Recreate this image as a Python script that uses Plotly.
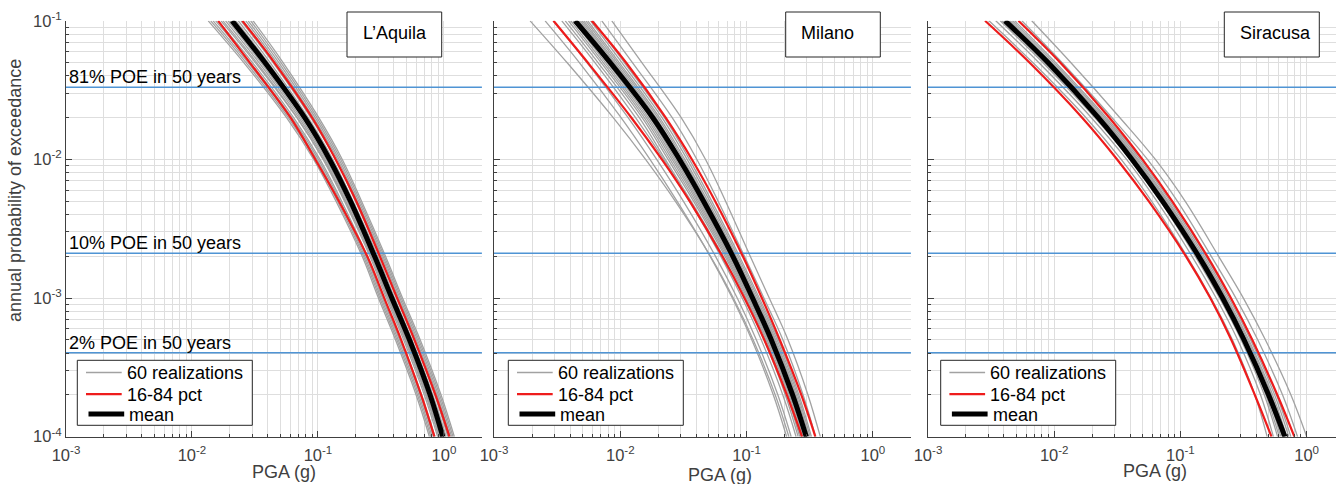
import numpy as np
import plotly.graph_objects as go

FIG_W, FIG_H = 1336, 484

# ---------------- data ----------------
poe_levels = [1e-1, 5e-2, 2e-2, 1e-2, 5e-3, 2e-3, 1e-3, 5e-4, 2e-4, 1e-4]

city_names = ["L’Aquila", "Milano", "Siracusa"]

# L'Aquila
aquila_mean = [0.0208, 0.0379, 0.0785, 0.1236, 0.181, 0.2814, 0.3857, 0.532, 0.776, 0.978]
aquila_p16 = [0.01614, 0.02873, 0.06058, 0.09525, 0.1466, 0.246, 0.3357, 0.457, 0.659, 0.840]
aquila_p84 = [0.02514, 0.0451, 0.08993, 0.1382, 0.2014, 0.3098, 0.425, 0.583, 0.856, 1.105]
aquila_realizations = [
    [0.01346, 0.02576, 0.05629, 0.09242, 0.1390, 0.2244, 0.3020, 0.4121, 0.6012, 0.7665],
    [0.01409, 0.02681, 0.05818, 0.09515, 0.1427, 0.2298, 0.3095, 0.4226, 0.6167, 0.7863],
    [0.01472, 0.02786, 0.06008, 0.09787, 0.1463, 0.2352, 0.3170, 0.4331, 0.6322, 0.8061],
    [0.01542, 0.02903, 0.06208, 0.1008, 0.1502, 0.2409, 0.3249, 0.4441, 0.6484, 0.8268],
    [0.01611, 0.03020, 0.06408, 0.1037, 0.1541, 0.2465, 0.3327, 0.4551, 0.6646, 0.8475],
    [0.0170, 0.0318, 0.06797, 0.1106, 0.1650, 0.2650, 0.3600, 0.4950, 0.7220, 0.9200],
    [0.01762, 0.03266, 0.06838, 0.1098, 0.1622, 0.2583, 0.3491, 0.4783, 0.6988, 0.8909],
    [0.01847, 0.03399, 0.07066, 0.1131, 0.1665, 0.2645, 0.3578, 0.4905, 0.7168, 0.9138],
    [0.01932, 0.03532, 0.07294, 0.1163, 0.1708, 0.2706, 0.3664, 0.5026, 0.7347, 0.9367],
    [0.0200, 0.0365, 0.07565, 0.1203, 0.1780, 0.2850, 0.3950, 0.5470, 0.8050, 1.0250],
    [0.02128, 0.03855, 0.07831, 0.1238, 0.1806, 0.2849, 0.3864, 0.5306, 0.7763, 0.9895],
    [0.0220, 0.0395, 0.07929, 0.1232, 0.1770, 0.2740, 0.3660, 0.5000, 0.7250, 0.9150],
    [0.02230, 0.04012, 0.08093, 0.1275, 0.1854, 0.2917, 0.3960, 0.5442, 0.7961, 1.0150],
    [0.02333, 0.04169, 0.08355, 0.1311, 0.1901, 0.2985, 0.4055, 0.5577, 0.8159, 1.0404],
    [0.0245, 0.0440, 0.08767, 0.1377, 0.1985, 0.3090, 0.4200, 0.5780, 0.8450, 1.0750],
    [0.02553, 0.04508, 0.08914, 0.1389, 0.2001, 0.3128, 0.4256, 0.5861, 0.8579, 1.0937],
    [0.02673, 0.04698, 0.09213, 0.1431, 0.2054, 0.3204, 0.4362, 0.6010, 0.8800, 1.1219],
    [0.02793, 0.04887, 0.09511, 0.1471, 0.2107, 0.3279, 0.4467, 0.6158, 0.9020, 1.1500],
    [0.02924, 0.05086, 0.09828, 0.1515, 0.2163, 0.3358, 0.4578, 0.6315, 0.9252, 1.1796],
    [0.03055, 0.05284, 0.1015, 0.1559, 0.2218, 0.3436, 0.4688, 0.6471, 0.9484, 1.2091],
]

# Milano
milano_mean = [0.00439, 0.00831, 0.0181, 0.02944, 0.04563, 0.0779, 0.1115, 0.1568, 0.2314, 0.2971]
milano_p16 = [0.002957, 0.005521, 0.01225, 0.02133, 0.03540, 0.06427, 0.09616, 0.1380, 0.2084, 0.2748]
milano_p84 = [0.005948, 0.01110, 0.02288, 0.03693, 0.05641, 0.09341, 0.1321, 0.1830, 0.2713, 0.3503]
milano_realizations = [
    [0.001932, 0.003784, 0.008790, 0.01585, 0.02723, 0.05176, 0.07852, 0.1127, 0.1687, 0.2163],
    [0.002541, 0.004742, 0.01014, 0.01718, 0.02812, 0.05152, 0.07709, 0.1099, 0.1629, 0.2075],
    [0.002938, 0.005445, 0.01153, 0.01941, 0.03155, 0.05675, 0.08433, 0.1194, 0.1770, 0.2254],
    [0.003442, 0.006295, 0.01321, 0.02208, 0.03540, 0.06252, 0.09226, 0.1306, 0.1936, 0.2466],
    [0.003665, 0.006665, 0.01414, 0.02269, 0.03634, 0.06530, 0.09593, 0.1378, 0.2027, 0.2560],
    [0.003887, 0.007045, 0.01491, 0.02388, 0.03798, 0.06760, 0.09904, 0.1421, 0.2087, 0.2634],
    [0.004060, 0.007339, 0.01550, 0.02480, 0.03922, 0.06931, 0.1014, 0.1453, 0.2131, 0.2689],
    [0.004233, 0.007633, 0.01609, 0.02571, 0.04045, 0.07102, 0.1037, 0.1484, 0.2175, 0.2743],
    [0.004393, 0.007904, 0.01664, 0.02655, 0.04157, 0.07256, 0.1058, 0.1512, 0.2215, 0.2791],
    [0.004553, 0.008175, 0.01718, 0.02738, 0.04269, 0.07409, 0.1078, 0.1540, 0.2254, 0.2839],
    [0.004696, 0.008416, 0.01767, 0.02812, 0.04368, 0.07542, 0.1096, 0.1565, 0.2288, 0.2881],
    [0.004839, 0.008656, 0.01815, 0.02886, 0.04466, 0.07675, 0.1114, 0.1589, 0.2321, 0.2922],
    [0.004991, 0.008911, 0.01866, 0.02964, 0.04569, 0.07813, 0.1132, 0.1614, 0.2356, 0.2965],
    [0.005142, 0.009165, 0.01917, 0.03042, 0.04671, 0.07950, 0.1150, 0.1639, 0.2390, 0.3008],
    [0.005336, 0.009490, 0.01982, 0.03141, 0.04801, 0.08122, 0.1173, 0.1670, 0.2433, 0.3061],
    [0.005530, 0.009815, 0.02047, 0.03240, 0.04931, 0.08294, 0.1196, 0.1700, 0.2476, 0.3114],
    [0.005814, 0.010286, 0.02141, 0.03383, 0.05115, 0.08536, 0.1228, 0.1744, 0.2536, 0.3188],
    [0.006097, 0.010757, 0.02235, 0.03525, 0.05298, 0.08777, 0.1260, 0.1787, 0.2596, 0.3261],
    [0.007141, 0.012479, 0.02577, 0.04042, 0.05957, 0.09619, 0.1371, 0.1937, 0.2803, 0.3516],
    [0.008571, 0.014816, 0.03036, 0.04733, 0.06817, 0.1069, 0.1512, 0.2126, 0.3062, 0.3835],
]

# Siracusa
siracusa_mean = [0.004083, 0.008933, 0.02234, 0.04140, 0.07211, 0.1396, 0.2163, 0.3192, 0.5000, 0.6730]
siracusa_p16 = [0.002833, 0.006368, 0.01667, 0.03155, 0.05610, 0.1107, 0.1726, 0.2529, 0.3890, 0.5272]
siracusa_p84 = [0.005204, 0.01115, 0.02738, 0.05004, 0.0860, 0.1634, 0.2513, 0.3710, 0.5867, 0.8005]
siracusa_realizations = [
    [0.003042, 0.006760, 0.01787, 0.03394, 0.05907, 0.1128, 0.1751, 0.2584, 0.3891, 0.4869],
    [0.003441, 0.007540, 0.01971, 0.03746, 0.06508, 0.1236, 0.1921, 0.2840, 0.4317, 0.5456],
    [0.003736, 0.008111, 0.02103, 0.04000, 0.06942, 0.1313, 0.2043, 0.3025, 0.4626, 0.5888],
    [0.003863, 0.008356, 0.02160, 0.04108, 0.07126, 0.1346, 0.2096, 0.3104, 0.4759, 0.6073],
    [0.003989, 0.008600, 0.02216, 0.04216, 0.07309, 0.1379, 0.2148, 0.3183, 0.4890, 0.6258],
    [0.004107, 0.008826, 0.02268, 0.04315, 0.07478, 0.1409, 0.2195, 0.3255, 0.5013, 0.6429],
    [0.004225, 0.009051, 0.02319, 0.04415, 0.07646, 0.1439, 0.2243, 0.3327, 0.5134, 0.6600],
    [0.004350, 0.009288, 0.02374, 0.04519, 0.07822, 0.1470, 0.2294, 0.3403, 0.5262, 0.6780],
    [0.004475, 0.009524, 0.02427, 0.04623, 0.07999, 0.1501, 0.2343, 0.3477, 0.5390, 0.6959],
    [0.004667, 0.009885, 0.02509, 0.04780, 0.08265, 0.1549, 0.2418, 0.3592, 0.5583, 0.7234],
    [0.004859, 0.010245, 0.02591, 0.04937, 0.08531, 0.1595, 0.2493, 0.3705, 0.5775, 0.7509],
    [0.005539, 0.011516, 0.02874, 0.05482, 0.09459, 0.1757, 0.2753, 0.4099, 0.6454, 0.8482],
    [0.006638, 0.013521, 0.03316, 0.06335, 0.1090, 0.2010, 0.3155, 0.4712, 0.7516, 1.0025],
]

# reference probability-of-exceedance lines
poe_values = [0.0332, 0.002107, 0.000404]
poe_labels = ["81% POE in 50 years", "10% POE in 50 years", "2% POE in 50 years"]

# axis limits and ticks
pga_limits = [1e-3, 2.0]
x_tickvals = [1e-3, 1e-2, 1e-1, 1e0]
x_ticktext = ["10<sup>-3</sup>", "10<sup>-2</sup>", "10<sup>-1</sup>", "10<sup>0</sup>"]
y_tickvals = [1e-4, 1e-3, 1e-2, 1e-1]
y_ticktext = ["10<sup>-4</sup>", "10<sup>-3</sup>", "10<sup>-2</sup>", "10<sup>-1</sup>"]

legend_names = ["60 realizations", "16-84 pct", "mean"]

# ---------------- layout helpers ----------------
def fx(p):
    return p / FIG_W


def fy(p):
    return 1 - p / FIG_H


FONT = "Liberation Sans, Arial, Helvetica, sans-serif"
GRID = "#dedede"
AXIS = "#404040"
GREY = "#a2a2a2"
RED = "#ee1c1c"
BLUE = "#4f94d4"

panel_px = [(66, 482), (494, 911), (928, 1336)]
panel_xmax = [np.log10(pga_limits[1]) + 0.0008, np.log10(pga_limits[1]) + 0.0008, 0.233]
plot_top, plot_bottom = 20.7, 436.8

minor_vals = [m * 10.0 ** e for e in range(-4, 1) for m in range(2, 10)]

cities = [
    (aquila_realizations, aquila_p16, aquila_p84, aquila_mean),
    (milano_realizations, milano_p16, milano_p84, milano_mean),
    (siracusa_realizations, siracusa_p16, siracusa_p84, siracusa_mean),
]

fig = go.Figure()

for i, (reals, p16, p84, mean) in enumerate(cities):
    xa = "x" if i == 0 else f"x{i+1}"
    ya = "y" if i == 0 else f"y{i+1}"
    for k, r in enumerate(reals):
        fig.add_trace(go.Scatter(
            x=r, y=poe_levels, mode="lines", xaxis=xa, yaxis=ya,
            line=dict(color=GREY, width=1.3, shape="spline", smoothing=1.0),
            name=legend_names[0], showlegend=False, hoverinfo="skip"))
    for p in poe_values:
        fig.add_trace(go.Scatter(
            x=pga_limits, y=[p, p], mode="lines", xaxis=xa, yaxis=ya,
            line=dict(color=BLUE, width=1.5), showlegend=False, hoverinfo="skip"))
    for band in (p16, p84):
        fig.add_trace(go.Scatter(
            x=band, y=poe_levels, mode="lines", xaxis=xa, yaxis=ya,
            line=dict(color=RED, width=2.2, shape="spline", smoothing=1.0),
            name=legend_names[1], showlegend=False))
    fig.add_trace(go.Scatter(
        x=mean, y=poe_levels, mode="lines", xaxis=xa, yaxis=ya,
        line=dict(color="black", width=5, shape="spline", smoothing=1.0),
        name=legend_names[2], showlegend=False))

layout = dict(
    template="none",
    width=FIG_W, height=FIG_H,
    margin=dict(l=0, r=0, t=0, b=0, pad=0, autoexpand=False),
    paper_bgcolor="white", plot_bgcolor="white",
    font=dict(family=FONT, size=17, color="#111111"),
    showlegend=False,
    shapes=[], annotations=[],
)

for i, (x0, x1) in enumerate(panel_px):
    sfx = "" if i == 0 else str(i + 1)
    layout["xaxis" + sfx] = dict(
        type="log", domain=[fx(x0), fx(x1)], automargin=False,
        range=[-3, panel_xmax[i]], anchor="y" + sfx,
        tickmode="array", tickvals=x_tickvals, ticktext=x_ticktext,
        ticks="inside", ticklen=6, tickcolor=AXIS, tickwidth=1,
        ticklabelstandoff=3,
        showline=True, linecolor=AXIS, linewidth=1, mirror=False,
        showgrid=True, gridcolor=GRID, gridwidth=1, zeroline=False,
        tickfont=dict(family=FONT, size=16.5, color=AXIS),
        minor=dict(tickmode="array", tickvals=minor_vals, ticks="inside",
                   ticklen=3, tickcolor=AXIS, showgrid=True, gridcolor=GRID,
                   gridwidth=1),
        fixedrange=True,
    )
    layout["yaxis" + sfx] = dict(
        type="log", domain=[fy(plot_bottom), fy(plot_top)], automargin=False,
        range=[-4.0008, -0.9992], anchor="x" + sfx,
        tickmode="array", tickvals=y_tickvals, ticktext=y_ticktext,
        showticklabels=(i == 0),
        ticks="inside", ticklen=6, tickcolor=AXIS, tickwidth=1,
        showline=True, linecolor=AXIS, linewidth=1, mirror=False,
        showgrid=True, gridcolor=GRID, gridwidth=1, zeroline=False,
        tickfont=dict(family=FONT, size=16.5, color=AXIS),
        minor=dict(tickmode="array", tickvals=minor_vals, ticks="inside",
                   ticklen=3, tickcolor=AXIS, showgrid=True, gridcolor=GRID,
                   gridwidth=1),
        fixedrange=True,
    )

# hand-drawn legend boxes (one per panel), positioned in pixels
legend_left = [77.3, 508.3, 940.7]
legend_rows = [(372.5, GREY, 1.3, 0), (394.2, RED, 2.2, 0), (414.0, "black", 5, 2.5)]
for lx in legend_left:
    layout["shapes"].append(dict(
        type="rect", xref="paper", yref="paper",
        x0=fx(lx), x1=fx(lx + 175), y0=fy(425.3), y1=fy(360.3),
        line=dict(color="#262626", width=1), fillcolor="white", layer="above"))
    for (ry, col, w, dx), label in zip(legend_rows, legend_names):
        layout["shapes"].append(dict(
            type="line", xref="paper", yref="paper",
            x0=fx(lx + 8.7 + dx), x1=fx(lx + 44.4 + dx), y0=fy(ry), y1=fy(ry),
            line=dict(color=col, width=w), layer="above"))
        layout["annotations"].append(dict(
            text=label, xref="paper", yref="paper",
            x=fx(lx + 47.5 + dx), y=fy(ry + 0.8), xanchor="left", yanchor="middle",
            showarrow=False, font=dict(family=FONT, size=18, color="#000000")))

# city title boxes
title_boxes = [(347, 441.7, 394.5), (785.7, 880.3, 827.5), (1224.3, 1319.3, 1275.2)]
for (bx0, bx1, tx), name in zip(title_boxes, city_names):
    layout["shapes"].append(dict(
        type="rect", xref="paper", yref="paper",
        x0=fx(bx0), x1=fx(bx1), y0=fy(57), y1=fy(12),
        line=dict(color="#262626", width=1), fillcolor="white", layer="above"))
    layout["annotations"].append(dict(
        text=name, xref="paper", yref="paper", x=fx(tx), y=fy(33),
        xanchor="center", yanchor="middle", showarrow=False,
        font=dict(family=FONT, size=18, color="#000000")))

# POE labels (left panel only)
for p, lab in zip(poe_values, poe_labels):
    layout["annotations"].append(dict(
        text=lab, xref="x", yref="y", x=np.log10(pga_limits[0]), y=np.log10(p),
        xanchor="left", yanchor="bottom", xshift=1, yshift=-2, showarrow=False,
        font=dict(family=FONT, size=18, color="#000000")))

# axis titles
for cx, cy in [(284, 472), (720, 475), (1155, 470.5)]:
    layout["annotations"].append(dict(
        text="PGA (g)", xref="paper", yref="paper", x=fx(cx), y=fy(cy),
        xanchor="center", yanchor="middle", showarrow=False,
        font=dict(family=FONT, size=18, color=AXIS)))
layout["annotations"].append(dict(
    text="annual probability of exceedance", xref="paper", yref="paper",
    x=fx(15), y=fy(191), xanchor="center", yanchor="middle", textangle=-90,
    showarrow=False, font=dict(family=FONT, size=18, color=AXIS)))

fig.update_layout(**layout)

fig.write_html("out.html", config={"displayModeBar": False},
               post_script="document.body.style.margin='0';document.body.style.overflow='hidden';")
